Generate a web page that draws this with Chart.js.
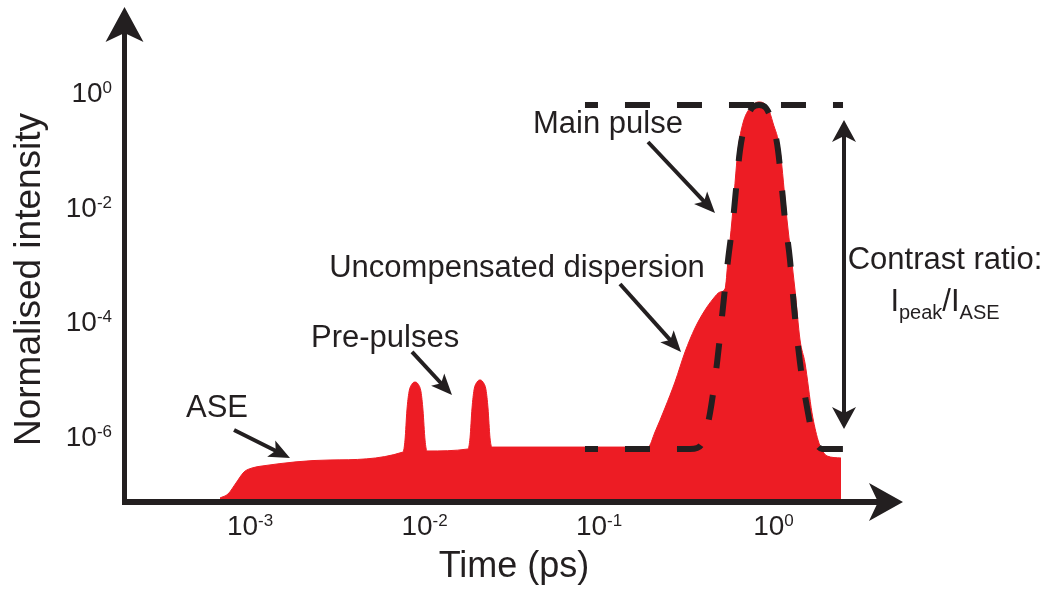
<!DOCTYPE html>
<html>
<head>
<meta charset="utf-8">
<title>Laser pulse temporal contrast</title>
<script src="https://cdn.jsdelivr.net/npm/chart.js@4.4.1/dist/chart.umd.min.js"></script>
<style>
  html, body { margin: 0; padding: 0; background: #ffffff; }
  #wrap { width: 1054px; height: 590px; }
</style>
</head>
<body>
<div id="wrap"><canvas id="c" width="1054" height="590"></canvas></div>
<script>
// Decade ticks and the exponents printed next to "10"
const xTicks = [1e-3, 1e-2, 1e-1, 1];
const xTickExponents = ['-3', '-2', '-1', '0'];
const yTicks = [1e-6, 1e-4, 1e-2, 1];
const yTickExponents = ['-6', '-4', '-2', '0'];

// Real pulse: ASE pedestal, two pre-pulses, dispersion shoulder and main pulse
// time in ps, intensity normalised to the peak
const pulseTime = [
  6.73e-4, 7.48e-4, 8.31e-4, 9.24e-4, 1.027e-3, 1.172e-3, 2.874e-3,
  7.53e-3, 7.73e-3, 7.93e-3, 8.15e-3, 8.48e-3, 8.82e-3, 9.18e-3, 9.55e-3, 9.80e-3, 1.007e-2, 1.033e-2,
  1.776e-2, 1.823e-2, 1.872e-2, 1.922e-2, 2.00e-2, 2.080e-2, 2.163e-2, 2.251e-2, 2.311e-2, 2.373e-2, 2.436e-2,
  5.976e-2, 0.1909, 0.2094, 0.2388, 0.2725, 0.3111, 0.3549, 0.4050, 0.4500, 0.4935, 0.5273,
  0.5487, 0.5783, 0.6259, 0.6686, 0.7333, 0.8259, 0.9300, 0.9933, 1.089, 1.195, 1.328, 1.419,
  1.515, 1.662, 1.799, 1.897, 2.026, 2.437
];
const pulseIntensity = [
  1.40e-7, 1.64e-7, 2.55e-7, 3.97e-7, 4.66e-7, 5.05e-7, 6.43e-7,
  8.85e-7, 1.43e-6, 4.79e-6, 9.86e-6, 1.36e-5, 1.47e-5, 1.36e-5, 9.86e-6, 4.79e-6, 1.43e-6, 9.23e-7,
  1.00e-6, 1.56e-6, 5.19e-6, 1.07e-5, 1.47e-5, 1.60e-5, 1.47e-5, 1.07e-5, 5.19e-6, 1.56e-6, 1.08e-6,
  1.08e-6, 1.08e-6, 1.98e-6, 5.19e-6, 1.47e-5, 4.92e-5, 1.29e-4, 2.65e-4, 4.13e-4, 5.47e-4, 6.18e-4,
  1.98e-3, 9.87e-3, 0.164, 0.485, 0.886, 1.13, 0.886, 0.485, 0.164, 9.87e-3, 5.93e-4, 7.96e-5,
  3.16e-5, 4.25e-6, 1.43e-6, 9.60e-7, 7.55e-7, 6.96e-7
];

// Ideal compressed pulse sitting on the ASE floor
const idealTime = [
  0.0831, 0.1718, 0.3322, 0.3644, 0.3842, 0.3996, 0.4326, 0.4745, 0.5136, 0.5487, 0.5861,
  0.6427, 0.6866, 0.7528, 0.8259, 0.9058, 0.9933, 1.061, 1.164, 1.243, 1.311, 1.419,
  1.577, 1.684, 1.775, 1.897, 2.502
];
const idealIntensity = [
  1e-6, 1e-6, 1e-6, 1.04e-6, 1.17e-6, 1.56e-6, 4.25e-6, 3.16e-5, 3.00e-4, 1.98e-3, 9.87e-3,
  0.164, 0.448, 0.886, 1.0, 0.886, 0.448, 0.164, 9.87e-3, 1.98e-3, 3.00e-4, 3.16e-5,
  4.25e-6, 1.62e-6, 1.17e-6, 1e-6, 1e-6
];

// Peak intensity level
const peakLevelTime = [0.0831, 2.502];
const peakLevelIntensity = [1, 1];

const INK = '#231f20';
const RED = '#ed1c24';
const FONT = "'Liberation Sans', Arial, Helvetica, sans-serif";

// Callouts: text anchored at its baseline centre, arrows from -> to (time, intensity)
const callouts = [
  { text: 'Main pulse', at: [0.1126, 0.325], from: [0.1909, 0.2263], to: [0.4621, 0.01306] },
  { text: 'Uncompensated dispersion', at: [0.0339, 1.0e-3], from: [0.1319, 7.55e-4], to: [0.2951, 4.92e-5] },
  { text: 'Pre-pulses', at: [5.94e-3, 6.01e-5], from: [8.48e-3, 4.92e-5], to: [0.01437, 8.75e-6] },
  { text: 'ASE', at: [6.47e-4, 3.61e-6], from: [8.10e-4, 2.14e-6], to: [1.695e-3, 6.96e-7] }
];
// Contrast ratio double arrow between peak and ASE levels
const contrastArrow = { time: 2.535, top: 0.547, bottom: 2.23e-6 };
const contrastLabel = { time: 9.61, line1: 1.38e-3, line2: 2.55e-4 };

const toPoints = (xs, ys) => xs.map((v, i) => ({ x: v, y: ys[i] }));

function head(ctx, tx, ty, ang, len, half, notch) {
  const dx = Math.cos(ang), dy = Math.sin(ang);
  const px = -dy, py = dx;
  ctx.beginPath();
  ctx.moveTo(tx, ty);
  ctx.lineTo(tx - dx * len + px * half, ty - dy * len + py * half);
  ctx.lineTo(tx - dx * (len - notch), ty - dy * (len - notch));
  ctx.lineTo(tx - dx * len - px * half, ty - dy * len - py * half);
  ctx.closePath();
  ctx.fill();
}

function arrow(ctx, x1, y1, x2, y2, width, len, half, notch) {
  const ang = Math.atan2(y2 - y1, x2 - x1);
  const ex = x2 - Math.cos(ang) * (len - notch - 1);
  const ey = y2 - Math.sin(ang) * (len - notch - 1);
  ctx.lineWidth = width;
  ctx.lineCap = 'butt';
  ctx.beginPath();
  ctx.moveTo(x1, y1);
  ctx.lineTo(ex, ey);
  ctx.stroke();
  head(ctx, x2, y2, ang, len, half, notch);
}

function powerLabel(ctx, exp, x, y, align) {
  ctx.font = '28px ' + FONT;
  const wBase = ctx.measureText('10').width;
  ctx.font = '17px ' + FONT;
  const wExp = ctx.measureText(exp).width;
  const total = wBase + wExp;
  const left = align === 'center' ? x - total / 2 : x - total;
  ctx.textAlign = 'left';
  ctx.textBaseline = 'alphabetic';
  ctx.font = '28px ' + FONT;
  ctx.fillText('10', left, y);
  ctx.font = '17px ' + FONT;
  ctx.fillText(exp, left + wBase, y - 9);
}

const decorations = {
  id: 'decorations',
  afterDraw(chart) {
    const { ctx, chartArea: a, scales: { x, y } } = chart;
    ctx.save();
    ctx.fillStyle = INK;
    ctx.strokeStyle = INK;

    // axes with arrow heads
    ctx.lineWidth = 5;
    ctx.beginPath();
    ctx.moveTo(a.left + 0.5, a.bottom + 3);
    ctx.lineTo(a.left + 0.5, a.top);
    ctx.stroke();
    head(ctx, a.left + 0.5, a.top - 26, -Math.PI / 2, 35, 19, 9);
    ctx.lineWidth = 6;
    ctx.beginPath();
    ctx.moveTo(a.left - 2, a.bottom);
    ctx.lineTo(a.right, a.bottom);
    ctx.stroke();
    head(ctx, a.right + 25, a.bottom, 0, 34, 19, 9);

    // decade labels
    x.ticks.forEach((t, i) => powerLabel(ctx, xTickExponents[i], x.getPixelForValue(t.value), a.bottom + 33, 'center'));
    y.ticks.forEach((t, i) => powerLabel(ctx, yTickExponents[i], a.left - 12, y.getPixelForValue(t.value) - 3, 'right'));

    // axis titles
    ctx.textAlign = 'center';
    ctx.textBaseline = 'alphabetic';
    ctx.font = '36px ' + FONT;
    ctx.fillText('Time (ps)', (a.left + a.right) / 2 + 13, a.bottom + 75);
    ctx.save();
    ctx.translate(a.left - 84, (a.top + a.bottom) / 2 + 12);
    ctx.rotate(-Math.PI / 2);
    ctx.font = '37px ' + FONT;
    ctx.fillText('Normalised intensity', 0, 0);
    ctx.restore();

    // callouts
    ctx.font = '31px ' + FONT;
    callouts.forEach(c => {
      ctx.textAlign = 'center';
      ctx.fillText(c.text, x.getPixelForValue(c.at[0]), y.getPixelForValue(c.at[1]));
      arrow(ctx,
        x.getPixelForValue(c.from[0]), y.getPixelForValue(c.from[1]),
        x.getPixelForValue(c.to[0]), y.getPixelForValue(c.to[1]),
        4, 21, 9, 5);
    });

    // contrast ratio arrow and label
    const cx = x.getPixelForValue(contrastArrow.time);
    const cTop = y.getPixelForValue(contrastArrow.top);
    const cBot = y.getPixelForValue(contrastArrow.bottom);
    ctx.lineWidth = 4;
    ctx.beginPath();
    ctx.moveTo(cx, cTop + 16);
    ctx.lineTo(cx, cBot - 16);
    ctx.stroke();
    head(ctx, cx, cTop, -Math.PI / 2, 22, 12, 6);
    head(ctx, cx, cBot, Math.PI / 2, 22, 12, 6);

    const lx = x.getPixelForValue(contrastLabel.time);
    ctx.font = '31px ' + FONT;
    ctx.textAlign = 'center';
    ctx.fillText('Contrast ratio:', lx, y.getPixelForValue(contrastLabel.line1));
    const parts = [
      { s: 'I', size: 31, dy: 0 }, { s: 'peak', size: 20, dy: 8 },
      { s: '/', size: 31, dy: 0 }, { s: 'I', size: 31, dy: 0 }, { s: 'ASE', size: 20, dy: 8 }
    ];
    let total = 0;
    parts.forEach(p => { ctx.font = p.size + 'px ' + FONT; p.w = ctx.measureText(p.s).width; total += p.w; });
    let px = lx - total / 2;
    const base = y.getPixelForValue(contrastLabel.line2);
    ctx.textAlign = 'left';
    parts.forEach(p => { ctx.font = p.size + 'px ' + FONT; ctx.fillText(p.s, px, base + p.dy); px += p.w; });

    ctx.restore();
  }
};

new Chart(document.getElementById('c'), {
  type: 'line',
  data: {
    datasets: [
      {
        label: 'Peak level',
        data: toPoints(peakLevelTime, peakLevelIntensity),
        borderColor: INK, borderWidth: 6, borderDash: [25, 27], borderDashOffset: 12,
        borderCapStyle: 'butt', pointRadius: 0, fill: false, order: 0
      },
      {
        label: 'Ideal pulse',
        data: toPoints(idealTime, idealIntensity),
        borderColor: INK, borderWidth: 6, borderDash: [25, 27], borderDashOffset: 12,
        borderCapStyle: 'butt', pointRadius: 0, fill: false,
        cubicInterpolationMode: 'monotone', order: 1
      },
      {
        label: 'Real pulse',
        data: toPoints(pulseTime, pulseIntensity),
        borderColor: RED, backgroundColor: RED, borderWidth: 1,
        pointRadius: 0, fill: 'start', cubicInterpolationMode: 'monotone', order: 2
      }
    ]
  },
  options: {
    responsive: false,
    animation: false,
    events: [],
    layout: { padding: { top: 33, right: 176, left: 0, bottom: 0 } },
    plugins: { legend: { display: false }, tooltip: { enabled: false } },
    scales: {
      x: {
        type: 'logarithmic', bounds: 'data', min: 1.896e-4, max: 3.97,
        grid: { display: false }, border: { display: false }, ticks: { display: false },
        afterBuildTicks: s => { s.ticks = xTicks.map(v => ({ value: v })); },
        afterFit: s => { s.height = 88; }
      },
      y: {
        type: 'logarithmic', bounds: 'data', min: 1.189e-7, max: 18.03,
        grid: { display: false }, border: { display: false }, ticks: { display: false },
        afterBuildTicks: s => { s.ticks = yTicks.map(v => ({ value: v })); },
        afterFit: s => { s.width = 124; }
      }
    }
  },
  plugins: [decorations]
});
</script>
</body>
</html>
